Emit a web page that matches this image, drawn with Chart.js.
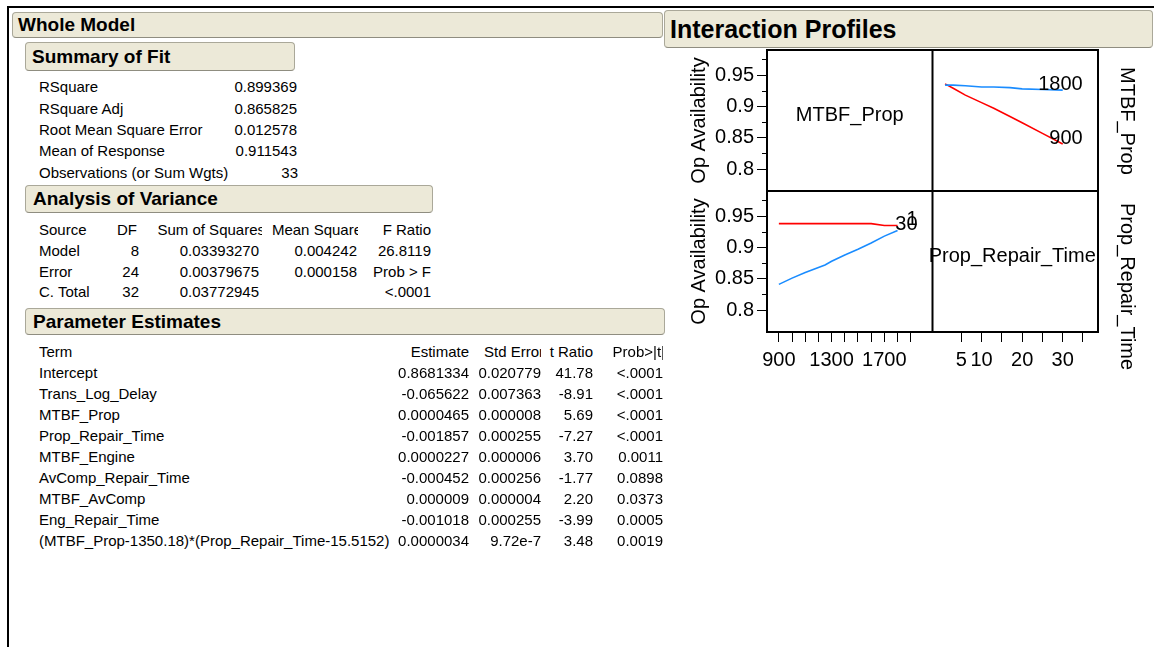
<!DOCTYPE html>
<html><head><meta charset="utf-8">
<script src="https://cdn.jsdelivr.net/npm/chart.js@4.4.1/dist/chart.umd.min.js"></script>
<style>
html,body{margin:0;padding:0;background:#fff;}
body{width:1154px;height:647px;position:relative;overflow:hidden;font-family:Arial,"Liberation Sans",sans-serif;color:#000;}
.ln{position:absolute;background:#000;}
.hdr{position:absolute;box-sizing:border-box;background:#ece9d8;border:1px solid #aaa899;border-bottom-color:#8f8d80;border-radius:4px;font-weight:bold;white-space:nowrap;overflow:hidden;}
.t{position:absolute;font-size:15px;line-height:17px;white-space:nowrap;}
.clip{position:absolute;overflow:hidden;height:17px;}
#cv{position:absolute;left:660px;top:40px;}
.rl{position:absolute;font-size:20px;line-height:24px;white-space:nowrap;transform:rotate(90deg);transform-origin:0 0;}
</style></head><body>
<div class="ln" style="left:7px;top:6px;width:1147px;height:2px"></div>
<div class="ln" style="left:7px;top:6px;width:2px;height:641px"></div>
<div class="hdr" style="left:12px;top:12px;width:651px;height:26px;font-size:19px;line-height:24px;padding-left:5px">Whole Model</div>
<div class="hdr" style="left:25px;top:42px;width:270px;height:29px;font-size:19px;line-height:27px;padding-left:6px">Summary of Fit</div>
<div class="hdr" style="left:25px;top:185px;width:408px;height:28px;font-size:19px;line-height:26px;padding-left:7px">Analysis of Variance</div>
<div class="hdr" style="left:25px;top:308px;width:640px;height:27px;font-size:19px;line-height:25px;padding-left:7px">Parameter Estimates</div>
<div class="hdr" style="left:664px;top:10px;width:489px;height:38px;font-size:25px;line-height:36px;padding-left:5px">Interaction Profiles</div>
<canvas id="cv" width="494" height="340"></canvas>
<div class="rl" id="r1" style="left:1140px;top:67px"></div>
<div class="rl" id="r2" style="left:1140px;top:203px"></div>
<script>
// ---------- table text ----------
const SUMMARY_LABELS = ['RSquare','RSquare Adj','Root Mean Square Error','Mean of Response','Observations (or Sum Wgts)'];
const SUMMARY_VALUES = ['0.899369','0.865825','0.012578','0.911543','33'];
const ANOVA_HEADERS = ['Source','DF','Sum of Squares','Mean Square','F Ratio'];
const ANOVA_SOURCE = ['Model','Error','C. Total'];
const ANOVA_DF = ['8','24','32'];
const ANOVA_SS = ['0.03393270','0.00379675','0.03772945'];
const ANOVA_MS = ['0.004242','0.000158',''];
const ANOVA_F = ['26.8119','Prob > F','<.0001'];
const PARAM_HEADERS = ['Term','Estimate','Std Error','t Ratio','Prob>|t|'];
const PARAM_TERM = ['Intercept','Trans_Log_Delay','MTBF_Prop','Prop_Repair_Time','MTBF_Engine','AvComp_Repair_Time','MTBF_AvComp','Eng_Repair_Time','(MTBF_Prop-1350.18)*(Prop_Repair_Time-15.5152)'];
const PARAM_EST = ['0.8681334','-0.065622','0.0000465','-0.001857','0.0000227','-0.000452','0.000009','-0.001018','0.0000034'];
const PARAM_SE = ['0.020779','0.007363','0.000008','0.000255','0.000006','0.000256','0.000004','0.000255','9.72e-7'];
const PARAM_T = ['41.78','-8.91','5.69','-7.27','3.70','-1.77','2.20','-3.99','3.48'];
const PARAM_P = ['<.0001','<.0001','<.0001','<.0001','0.0011','0.0898','0.0373','0.0005','0.0019'];

// ---------- interaction profile data ----------
const Y_TITLE = 'Op Availability';
const FACTORS = ['MTBF_Prop','Prop_Repair_Time'];
const Y_TICKS = [0.8, 0.85, 0.9, 0.95];
const Y_MINOR = [0.825, 0.875, 0.925, 0.975];
const MTBF_TICKS = [900,1000,1100,1200,1300,1400,1500,1600,1700,1800,1900];
const MTBF_LABELED = [900,1300,1700];
const PRT_TICKS = [5,10,15,20,25,30,35];
const PRT_LABELED = [5,10,20,30];
// top-right panel: x = Prop_Repair_Time, one line per MTBF_Prop level
const PRT_X = [1,3,6,10,13,17,20,25,30];
const AVAIL_MTBF_1800 = [0.934,0.934,0.933,0.931,0.931,0.930,0.928,0.927,0.926];
const AVAIL_MTBF_900 = [0.936,0.929,0.918,0.906,0.897,0.884,0.874,0.857,0.840];
// bottom-left panel: x = MTBF_Prop, one line per Prop_Repair_Time level
const MTBF_X = [900,1000,1100,1200,1250,1300,1400,1500,1600,1700,1800];
const AVAIL_PRT_1 = [0.938,0.938,0.938,0.938,0.938,0.938,0.938,0.938,0.938,0.935,0.935];
const AVAIL_PRT_30 = [0.841,0.851,0.860,0.868,0.872,0.878,0.888,0.897,0.907,0.918,0.927];

// ---------- build tables ----------
function put(text, x, cy, align) {
  const d = document.createElement('div');
  d.className = 't'; d.textContent = text;
  d.style.top = (cy - 8.3) + 'px';
  if (align === 'right') d.style.right = (1154 - x) + 'px'; else d.style.left = x + 'px';
  document.body.appendChild(d);
}
function putClip(text, right, cy, over) {
  const c = document.createElement('div');
  c.className = 'clip';
  c.style.left = (right - 200) + 'px'; c.style.width = '200px'; c.style.top = (cy - 8.3) + 'px';
  const s = document.createElement('div');
  s.className = 't'; s.style.top = '0px'; s.style.right = (-over) + 'px'; s.textContent = text;
  c.appendChild(s); document.body.appendChild(c);
}
SUMMARY_LABELS.forEach((l, i) => {
  const cy = 86.7 + i * 21.33;
  put(l, 39, cy, 'left');
  put(SUMMARY_VALUES[i], i === 4 ? 298 : 297, cy, 'right');
});
{
  const cy0 = 229.2, st = 20.8;
  put(ANOVA_HEADERS[0], 39, cy0, 'left');
  put(ANOVA_HEADERS[1], 137, cy0, 'right');
  putClip(ANOVA_HEADERS[2], 262, cy0, 3);
  putClip(ANOVA_HEADERS[3], 358, cy0, 4);
  put(ANOVA_HEADERS[4], 431, cy0, 'right');
  ANOVA_SOURCE.forEach((s, i) => {
    const cy = cy0 + (i + 1) * st;
    put(s, 39, cy, 'left');
    put(ANOVA_DF[i], 139, cy, 'right');
    put(ANOVA_SS[i], 259, cy, 'right');
    put(ANOVA_MS[i], 357, cy, 'right');
    put(ANOVA_F[i], 431, cy, 'right');
  });
}
{
  const cy0 = 351.7, st = 20.95;
  put(PARAM_HEADERS[0], 39, cy0, 'left');
  put(PARAM_HEADERS[1], 469, cy0, 'right');
  putClip(PARAM_HEADERS[2], 541, cy0, 3);
  put(PARAM_HEADERS[3], 593, cy0, 'right');
  putClip(PARAM_HEADERS[4], 663, cy0, 2);
  PARAM_TERM.forEach((t, i) => {
    const cy = cy0 + (i + 1) * st;
    put(t, 39, cy, 'left');
    put(PARAM_EST[i], 469, cy, 'right');
    put(PARAM_SE[i], 541, cy, 'right');
    put(PARAM_T[i], 593, cy, 'right');
    put(PARAM_P[i], 663, cy, 'right');
  });
}
document.getElementById('r1').textContent = FACTORS[0];
document.getElementById('r2').textContent = FACTORS[1];

// ---------- chart ----------
const RED = '#ff0000', BLUE = '#1a8cff';
const pts = (xs, ys) => xs.map((x, i) => ({x, y: ys[i]}));
const FONT = {family: 'Arial, "Liberation Sans", sans-serif', size: 20};
const noPad = s => { s.paddingTop = 0; s.paddingBottom = 0; s.paddingLeft = 0; s.paddingRight = 0; };

function yScale() {
  return {
    type: 'linear', position: 'left', stack: 'rows', stackWeight: 1,
    min: 0.765, max: 0.99,
    afterBuildTicks: s => { s.ticks = Y_TICKS.map(v => ({value: v})); },
    afterFit: s => { s.width = 107; noPad(s); },
    grid: {drawOnChartArea: false, drawTicks: true, tickLength: 10, tickColor: '#000', tickWidth: 1},
    border: {display: false},
    ticks: {font: FONT, color: '#000', padding: 3, autoSkip: false, callback: v => String(v)},
    title: {display: true, text: Y_TITLE, font: FONT, color: '#000', padding: {top: 27, bottom: 0}}
  };
}
function xScale(min, max, ticks, labeled) {
  return {
    type: 'linear', position: 'bottom', stack: 'cols', stackWeight: 1,
    min, max,
    afterBuildTicks: s => { s.ticks = ticks.map(v => ({value: v})); },
    afterFit: s => { s.height = 48; noPad(s); },
    grid: {drawOnChartArea: false, drawTicks: true, tickLength: 10, tickColor: '#000', tickWidth: 1},
    border: {display: false},
    ticks: {font: FONT, color: '#000', padding: 6, autoSkip: false, maxRotation: 0, minRotation: 0,
      callback: v => labeled.includes(v) ? String(v) : ''}
  };
}

const panelPlugin = {
  id: 'panels',
  afterDraw(chart) {
    const {ctx, scales} = chart;
    const x1 = scales.x1, x2 = scales.x2, yT = scales.yTop, yB = scales.yBot;
    ctx.save();
    ctx.strokeStyle = '#000';
    ctx.lineWidth = 1;
    [yT, yB].forEach(s => Y_MINOR.forEach(v => {
      const p = Math.round(s.getPixelForValue(v)) + 0.5;
      ctx.beginPath(); ctx.moveTo(s.right - 5, p); ctx.lineTo(s.right, p); ctx.stroke();
    }));
    ctx.lineWidth = 2;
    ctx.strokeRect(x1.left, yT.top, x2.right - x1.left, yB.bottom - yT.top);
    ctx.beginPath();
    ctx.moveTo(x1.right, yT.top); ctx.lineTo(x1.right, yB.bottom);
    ctx.moveTo(x1.left, yT.bottom); ctx.lineTo(x2.right, yT.bottom);
    ctx.stroke();
    ctx.fillStyle = '#000';
    ctx.font = '20px Arial, "Liberation Sans", sans-serif';
    ctx.textAlign = 'center'; ctx.textBaseline = 'middle';
    ctx.fillText(FACTORS[0], (x1.left + x1.right) / 2, (yT.top + yT.bottom) / 2 - 5);
    ctx.fillText(FACTORS[1], (x2.left + x2.right) / 2 - 3, (yB.top + yB.bottom) / 2 - 5);
    ctx.textAlign = 'right';
    chart.data.datasets.forEach((ds, i) => {
      const meta = chart.getDatasetMeta(i);
      const p = meta.data[meta.data.length - 1];
      ctx.fillText(ds.label, p.x + 20, p.y - 6);
    });
    ctx.restore();
  }
};

new Chart(document.getElementById('cv'), {
  type: 'scatter',
  data: {
    datasets: [
      {label: '1800', data: pts(PRT_X, AVAIL_MTBF_1800), xAxisID: 'x2', yAxisID: 'yTop', borderColor: BLUE},
      {label: '900', data: pts(PRT_X, AVAIL_MTBF_900), xAxisID: 'x2', yAxisID: 'yTop', borderColor: RED},
      {label: '1', data: pts(MTBF_X, AVAIL_PRT_1), xAxisID: 'x1', yAxisID: 'yBot', borderColor: RED},
      {label: '30', data: pts(MTBF_X, AVAIL_PRT_30), xAxisID: 'x1', yAxisID: 'yBot', borderColor: BLUE}
    ].map(d => Object.assign(d, {showLine: true, pointRadius: 0, borderWidth: 1.6, tension: 0, backgroundColor: d.borderColor}))
  },
  options: {
    responsive: false, animation: false,
    layout: {padding: {top: 10, right: 56, left: 0, bottom: 0}},
    plugins: {legend: {display: false}, tooltip: {enabled: false}},
    scales: {
      x1: xScale(810, 2065, MTBF_TICKS, MTBF_LABELED),
      x2: xScale(-2.1, 38.7, PRT_TICKS, PRT_LABELED),
      yBot: yScale(),
      yTop: yScale()
    }
  },
  plugins: [panelPlugin]
});
</script>
</body></html>
